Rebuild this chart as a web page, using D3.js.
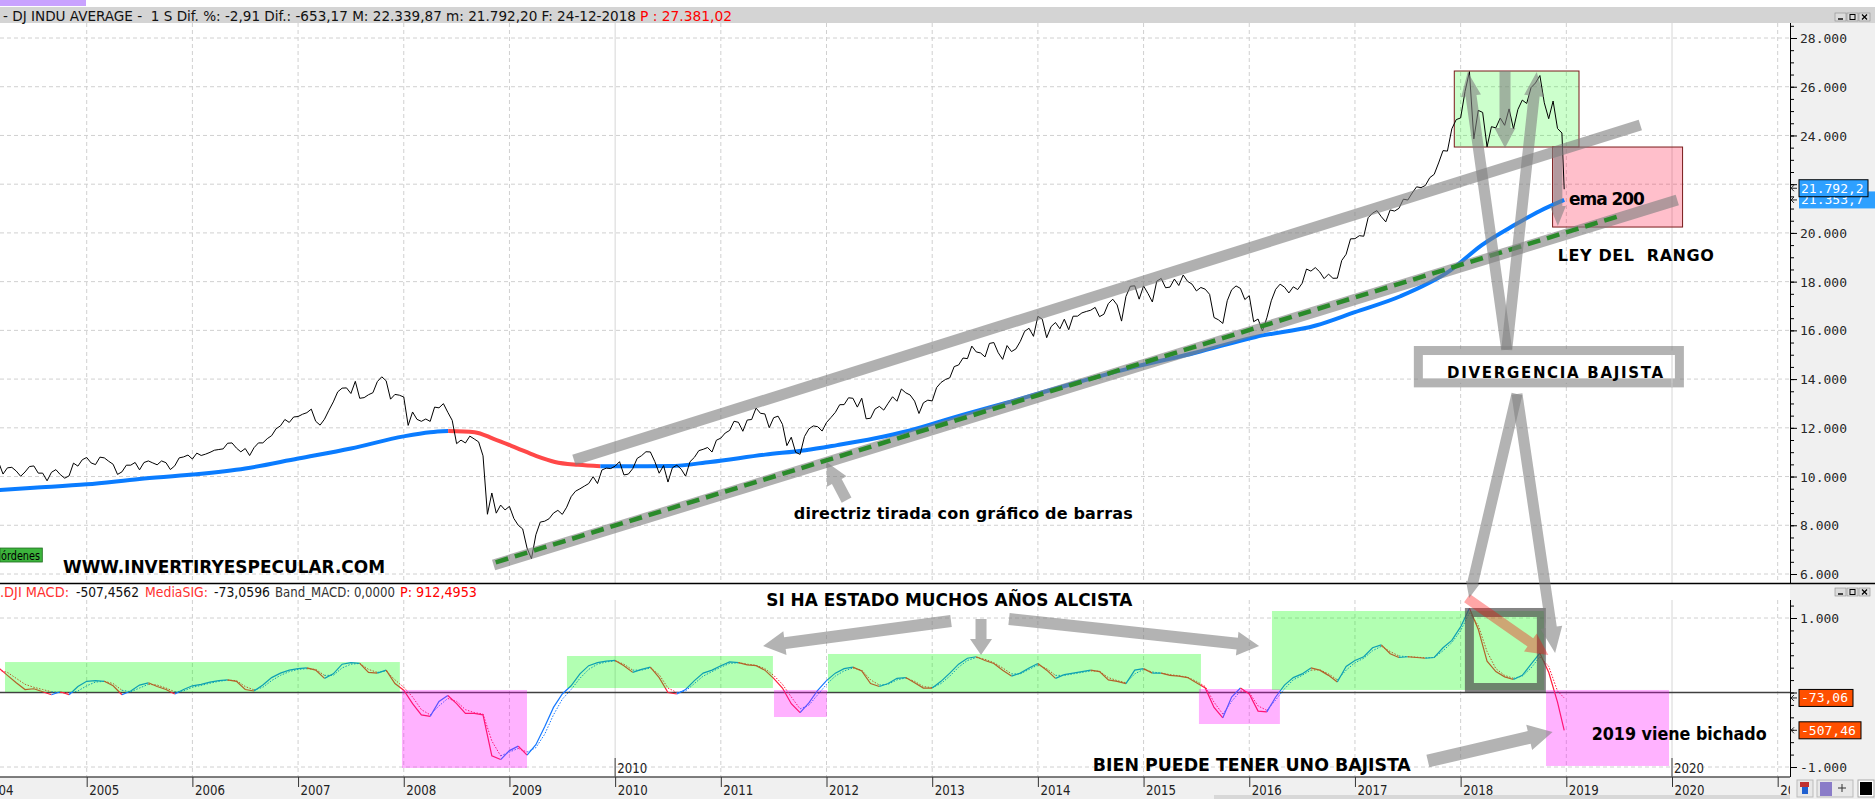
<!DOCTYPE html>
<html><head><meta charset="utf-8">
<script src="https://cdn.jsdelivr.net/npm/d3@7"></script>
<style>body{margin:0;background:#fff;overflow:hidden}svg{display:block}</style>
</head><body><svg id="c" width="1875" height="799"></svg>
<script>
// ================= DATA =================
// Dow Jones weekly chart, values read as half-month closes (2004 starts at end of February)
const dji2004 = [10584,10102,10358,10378,10226,10012,10188,10410,10435,10140,10140,9825,10174,10284,10080,9933,10027,10550,10428,10690,10783];
const dji2005 = [10558,10490,10796,10766,10627,10504,10088,10192,10466,10467,10578,10275,10575,10641,10560,10482,10641,10569,10287,10440,10766,10806,10882,10718];
const dji2006 = [10960,10865,10920,10993,11080,11109,11137,11367,11380,11168,11015,11150,10862,11185,11381,11381,11555,11679,11960,12081,12342,12221,12445,12463];
const dji2007 = [12556,12622,12767,12269,12110,12354,12720,13063,13476,13628,13639,13409,13908,13212,13239,13358,13442,13896,14093,13930,13176,13372,13339,13265];
const dji2008 = [12099,12650,12348,12266,12362,12263,12849,12820,12992,12638,12307,11350,11496,11378,11659,11544,11422,10851,8452,9325,8497,8830,8629,8776];
const dji2009 = [8281,8000,7850,7063,6627,7609,8131,8168,8268,8500,8612,8447,8743,9172,9398,9496,9605,9712,9995,9713,10271,10345,10328,10428];
const dji2010 = [10610,10067,10100,10325,10743,10857,11018,11009,10620,10137,10450,9774,10360,10466,10303,10015,10608,10788,11063,11118,11192,11006,11491,11578];
const dji2011 = [11787,11892,12268,12226,11859,12320,12341,12811,12596,12570,12005,12414,12479,12143,11269,11614,10992,10913,11644,11955,12078,12046,11867,12218];
const dji2012 = [12422,12633,12949,12952,13233,13212,12850,13214,12369,12393,12767,12880,12727,13009,13275,13091,13593,13437,13345,13096,12588,13026,13135,13104];
const dji2013 = [13650,13861,13982,14054,14514,14579,14865,14840,15354,15116,15071,14910,15464,15500,15081,14810,15376,15130,15237,15546,15962,16086,15755,16577];
const dji2014 = [16458,15699,16154,16322,16066,16458,16027,16581,16583,16717,16776,16827,16944,16563,16663,17098,17279,17043,16380,17391,17810,17828,17281,17823];
const dji2015 = [17512,17165,18019,18133,17749,17776,18105,17841,18272,18011,17898,17620,17760,17690,17477,16528,16433,16285,17216,17664,17824,17720,17265,17425];
const dji2016 = [16355,16466,15974,16517,17214,17685,17897,17774,17535,17787,17675,17930,18517,18432,18576,18401,18124,18308,18138,18142,18868,19124,19756,19763];
const dji2017 = [19886,19864,20624,20812,20915,20663,20453,20941,20897,21009,21384,21350,21638,21891,21858,21948,22268,22405,22871,23377,23358,24272,24651,24719];
const dji2018 = [25803,26617,23860,25029,24946,23533,24360,24311,24714,24416,25090,24271,25064,25451,25313,25965,26154,26458,25340,24688,25413,24286,24101,21792];
const lastDate = 2018.98; // 24-12-2018

// EMA 200 (read at irregular dates)
const emaDates  = [2004.0,2004.5,2005.0,2005.5,2006.0,2006.5,2007.0,2007.5,2008.0,2008.25,2008.42,2008.67,2008.85,2009.07,2009.25,2009.43,2009.65,2009.86,2010.2,2010.52,2010.9,2011.42,2011.8,2012.1,2012.45,2012.78,2013.23,2013.8,2014.36,2014.9,2015.49,2016.06,2016.63,2017.0,2017.43,2017.9,2018.2,2018.5,2018.75,2018.98];
const emaValues = [9400,9540,9680,9900,10080,10330,10740,11150,11650,11820,11870,11820,11550,11170,10850,10600,10480,10420,10425,10430,10600,10900,11080,11290,11560,11880,12460,13150,13850,14480,15080,15730,16200,16750,17400,18450,19500,20300,20900,21353];

// MACD and signal, month-end values from end of Feb 2004 to Dec 2018
const macdMonthly = [
  330,230,130,40,50,10,-30,10,-30,80,150,
  160,150,90,-30,20,100,130,80,40,-20,40,90,
  110,140,160,170,150,40,20,100,200,260,300,320,
  330,300,190,250,380,400,390,270,260,300,120,30,
  -150,-300,-320,-120,-40,-150,-280,-280,-300,-850,-900,-780,
  -720,-840,-700,-460,-200,-20,90,250,360,400,420,430,
  360,270,310,340,200,0,-20,40,160,260,300,360,
  410,400,370,360,300,190,60,-150,-270,-140,30,160,
  260,320,340,290,120,80,120,190,200,130,60,60,
  150,260,380,460,480,430,390,300,220,260,330,390,
  300,190,240,260,280,300,280,170,150,120,300,320,
  260,260,230,220,200,130,60,-200,-340,-60,60,-20,
  -250,-260,-60,100,200,250,330,300,230,140,350,430,
  480,600,640,520,470,480,470,460,470,600,700,880,
  1130,850,420,280,210,174,230,380,528,272,-130,-507];
const signalMonthly = [
  300,270,190,110,70,40,10,0,-5,20,90,
  140,150,120,30,10,60,110,100,60,10,20,70,
  95,125,150,165,160,80,35,70,160,230,280,310,
  320,310,230,230,330,380,390,310,270,290,170,70,
  -60,-230,-300,-180,-80,-120,-230,-270,-290,-650,-850,-800,
  -750,-800,-740,-560,-300,-90,40,190,310,380,410,425,
  380,300,300,330,240,60,0,20,120,220,280,340,
  390,400,380,365,320,230,110,-60,-220,-170,-30,110,
  220,290,330,300,170,100,110,170,195,150,80,65,
  120,220,340,430,470,445,400,330,250,250,310,370,
  320,230,230,250,270,290,285,200,160,130,250,310,
  275,260,240,225,205,150,80,-130,-290,-120,20,0,
  -180,-240,-100,50,170,230,300,305,250,170,300,400,
  460,560,620,550,490,480,475,465,470,560,670,830,
  1070,900,550,320,230,190,220,330,480,350,20,-73];

const yearTicks  = [2004,2005,2006,2007,2008,2009,2010,2011,2012,2013,2014,2015,2016,2017,2018,2019,2020,2021];
const priceTicks = [6000,8000,10000,12000,14000,16000,18000,20000,22000,24000,26000,28000];
const macdTicks  = [-1000,0,1000];
const lastPrice = 21792.2, lastEma = 21353.7, lastMacd = -507.4562, lastSignal = -73.0596;

const headerBlack = "- DJ INDU AVERAGE -  1 S Dif. %: -2,91 Dif.: -653,17 M: 22.339,87 m: 21.792,20 F: 24-12-2018";
const headerRed = "P : 27.381,02";

// ================= BUILD SERIES =================
const djiYears = [[2004,dji2004,3],[2005,dji2005,0],[2006,dji2006,0],[2007,dji2007,0],[2008,dji2008,0],[2009,dji2009,0],[2010,dji2010,0],[2011,dji2011,0],[2012,dji2012,0],[2013,dji2013,0],[2014,dji2014,0],[2015,dji2015,0],[2016,dji2016,0],[2017,dji2017,0],[2018,dji2018,0]];
const price = [];
djiYears.forEach(([yr, arr, off]) => arr.forEach((v, i) => price.push({d: yr + (off + i + 1) / 24, v})));
price[price.length - 1].d = lastDate;
const ema = emaDates.map((d, i) => ({d, v: emaValues[i]}));
const macd = macdMonthly.map((v, k) => ({d: 2004 + (k + 2) / 12, v, s: signalMonthly[k]}));
macd[macd.length - 1].d = lastDate;

// ================= SCALES =================
const W = 1875, H = 799, AX = 1790;
const x  = d3.scaleLinear().domain([2005, 2020]).range([86.7, 1672]);
const yP = d3.scaleLinear().domain([6000, 28000]).range([574, 38]);
const yM = d3.scaleLinear().domain([-1000, 1000]).range([767, 618]);
const loc = d3.formatLocale({decimal: ",", thousands: ".", grouping: [3], currency: ["", ""], minus: "-"});
const fInt = loc.format(",d"), f1 = loc.format(",.1f"), f2 = loc.format(",.2f");

const NARROW = "'Liberation Sans Narrow','Arial Narrow','DejaVu Sans Condensed',sans-serif";
const MONO = "'DejaVu Sans Mono','Liberation Mono',monospace";
const BLUE = "#1478ff", RED = "#ff1e3c";

const svg = d3.select('#c');
const defs = svg.append('defs');
defs.append('clipPath').attr('id', 'cm').append('rect').attr('x', 0).attr('y', 23).attr('width', AX).attr('height', 560);
defs.append('clipPath').attr('id', 'cd').append('rect').attr('x', 0).attr('y', 600).attr('width', AX).attr('height', 177);
defs.append('clipPath').attr('id', 'ca').append('rect').attr('x', 0).attr('y', 777).attr('width', AX).attr('height', 22);

svg.append('rect').attr('width', W).attr('height', H).attr('fill', '#fff');
svg.append('rect').attr('x', AX).attr('y', 23).attr('width', W - AX).attr('height', 754).attr('fill', '#f0f0f0');

// header
svg.append('rect').attr('x', 0).attr('y', 7).attr('width', W).attr('height', 16).attr('fill', '#d4d4d4');
svg.append('rect').attr('x', 0).attr('y', 0).attr('width', 86).attr('height', 6).attr('fill', '#c9a2ff');
svg.append('text').attr('x', 3).attr('y', 15.5).attr('dominant-baseline', 'central').attr('font-family', NARROW)
  .attr('font-size', 14).attr('fill', '#111').attr('textLength', 633).attr('lengthAdjust', 'spacingAndGlyphs').style('white-space', 'pre').text(headerBlack);
svg.append('text').attr('x', 640).attr('y', 15.5).attr('dominant-baseline', 'central').attr('font-family', NARROW)
  .attr('font-size', 14).attr('fill', '#ff0000').attr('textLength', 92).attr('lengthAdjust', 'spacingAndGlyphs').text(headerRed);

function winButtons(y) {
  [1835, 1847, 1859].forEach((bx, i) => {
    svg.append('rect').attr('x', bx).attr('y', y).attr('width', 11).attr('height', 8).attr('fill', '#dcdcdc').attr('stroke', '#8a8a8a').attr('stroke-width', 0.6);
    if (i === 0) svg.append('line').attr('x1', bx + 3).attr('x2', bx + 8).attr('y1', y + 6).attr('y2', y + 6).attr('stroke', '#000').attr('stroke-width', 1.4);
    if (i === 1) svg.append('rect').attr('x', bx + 3).attr('y', y + 1.5).attr('width', 5).attr('height', 5).attr('fill', 'none').attr('stroke', '#000').attr('stroke-width', 1);
    if (i === 2) svg.append('path').attr('d', `M${bx+3},${y+1.5}L${bx+8},${y+6.5}M${bx+8},${y+1.5}L${bx+3},${y+6.5}`).attr('stroke', '#000').attr('stroke-width', 1.2);
  });
}
winButtons(13);

// ================= GRID =================
const gM = svg.append('g').attr('clip-path', 'url(#cm)');
const gD = svg.append('g').attr('clip-path', 'url(#cd)');
[[gM, 23, 583], [gD, 600, 777]].forEach(([g, y1, y2]) => {
  yearTicks.forEach(yr => {
    const solid = yr % 10 === 0;
    g.append('line').attr('x1', x(yr)).attr('x2', x(yr)).attr('y1', y1).attr('y2', y2)
      .attr('stroke', solid ? '#d6d6d6' : '#d0d0d0').attr('stroke-dasharray', solid ? null : '4,3');
  });
});
priceTicks.forEach(v => gM.append('line').attr('x1', 0).attr('x2', AX).attr('y1', yP(v)).attr('y2', yP(v)).attr('stroke', '#d0d0d0').attr('stroke-dasharray', '4,3'));
[-1000, 1000].forEach(v => gD.append('line').attr('x1', 0).attr('x2', AX).attr('y1', yM(v)).attr('y2', yM(v)).attr('stroke', '#d0d0d0').attr('stroke-dasharray', '4,3'));

// ================= ANNOTATION GEOMETRY (data coordinates) =================
const greenBox = {x0: 2017.94, x1: 2019.12, v0: 26645, v1: 23525};
const pinkBox  = {x0: 2018.87, x1: 2020.10, v0: 23525, v1: 20241};
const upperChannel = [[2009.61, 10677], [2019.70, 24430]];
const lowerChannel = [[2008.85, 6367], [2020.05, 21350]];
const greenTrend   = [[2008.87, 6480], [2019.49, 20680]];
const divBox = {x0: 2017.60, x1: 2020.07, v0: 15173, v1: 13845};
const mainArrows = [
  {from: [2012.19, 9035], to: [2012.00, 10595], bw: 11, hw: 22, hl: 22},
  {from: [2018.42, 26645], to: [2018.42, 23484], bw: 11, hw: 21, hl: 20},
  {from: [2018.92, 23525], to: [2018.92, 20282], bw: 9, hw: 16, hl: 20},
  {from: [2018.436, 15200], to: [2018.067, 26604], bw: 11, hw: 20, hl: 24},
  {from: [2018.436, 15200], to: [2018.72, 26604], bw: 11, hw: 20, hl: 24}];
const crossArrows = [
  {from: [2018.533, 13388], to: [2018.081, 1268], bw: 11, hw: 14, hl: 16},
  {from: [2018.533, 13388], to: [2018.894, 530], bw: 11, hw: 22, hl: 26}];
const macdArrows = [
  {from: [2013.178, 960], to: [2011.40, 624], bw: 12, hw: 24, hl: 22},
  {from: [2013.462, 987], to: [2013.462, 503], bw: 11, hw: 22, hl: 16},
  {from: [2013.727, 987], to: [2016.093, 624], bw: 12, hw: 24, hl: 22},
  {from: [2017.69, -919], to: [2018.87, -530], bw: 13, hw: 26, hl: 24}];
const redArrow = {from: [2018.06, 1268], to: [2018.83, 503], bw: 10, hw: 22, hl: 22};
const macdBoxes = [
  {x0: 2004.227, x1: 2007.963, v0: 409, v1: 7, c: 'g'},
  {x0: 2007.983, x1: 2009.166, v0: 34, v1: -1013, c: 'p'},
  {x0: 2009.544, x1: 2011.493, v0: 490, v1: 60, c: 'g'},
  {x0: 2011.503, x1: 2012.004, v0: 34, v1: -329, c: 'p'},
  {x0: 2012.014, x1: 2015.543, v0: 517, v1: 7, c: 'g'},
  {x0: 2015.524, x1: 2016.290, v0: 47, v1: -423, c: 'p'},
  {x0: 2016.215, x1: 2018.789, v0: 1094, v1: 34, c: 'g'},
  {x0: 2018.808, x1: 2019.972, v0: 34, v1: -986, c: 'p'}];
const macdFrame = {x0: 2018.083, x1: 2018.764, v0: 1074, v1: 67};

function arrowPath(p1, p2, bw, hw, hl) {
  const dx = p2[0] - p1[0], dy = p2[1] - p1[1], L = Math.hypot(dx, dy);
  const ux = dx / L, uy = dy / L, nx = -uy, ny = ux;
  const bx = p2[0] - ux * hl, by = p2[1] - uy * hl;
  const pts = [[p1[0] + nx * bw / 2, p1[1] + ny * bw / 2], [bx + nx * bw / 2, by + ny * bw / 2], [bx + nx * hw / 2, by + ny * hw / 2], p2,
    [bx - nx * hw / 2, by - ny * hw / 2], [bx - nx * bw / 2, by - ny * bw / 2], [p1[0] - nx * bw / 2, p1[1] - ny * bw / 2]];
  return d3.line()(pts) + 'Z';
}
const PM = p => [x(p[0]), yP(p[1])], PD = p => [x(p[0]), yM(p[1])];

// ================= MAIN PANEL =================
gM.append('rect').attr('x', x(greenBox.x0)).attr('y', yP(greenBox.v0)).attr('width', x(greenBox.x1) - x(greenBox.x0)).attr('height', yP(greenBox.v1) - yP(greenBox.v0))
  .attr('fill', '#00ff00').attr('fill-opacity', 0.2).attr('stroke', '#7a1a1a').attr('stroke-width', 1);
gM.append('rect').attr('x', x(pinkBox.x0)).attr('y', yP(pinkBox.v0)).attr('width', x(pinkBox.x1) - x(pinkBox.x0)).attr('height', yP(pinkBox.v1) - yP(pinkBox.v0))
  .attr('fill', '#ff0030').attr('fill-opacity', 0.25).attr('stroke', '#7a1a1a').attr('stroke-width', 1);

// EMA colored runs
function runs(arr, colorOf) {
  const out = [];
  for (let i = 1; i < arr.length; i++) {
    const c = colorOf(i);
    if (!out.length || out[out.length - 1].c !== c) out.push({c, pts: [arr[i - 1]]});
    out[out.length - 1].pts.push(arr[i]);
  }
  return out;
}
const emaLine = d3.line().x(d => x(d.d)).y(d => yP(d.v)).curve(d3.curveMonotoneX);
runs(ema, i => ema[i].v < ema[i - 1].v ? '#ff4848' : '#0a7cff').forEach(r =>
  gM.append('path').attr('d', emaLine(r.pts)).attr('fill', 'none').attr('stroke', r.c).attr('stroke-width', 4));

gM.append('path').datum(price).attr('d', d3.line().x(d => x(d.d)).y(d => yP(d.v))).attr('fill', 'none').attr('stroke', '#000').attr('stroke-width', 1);

// channels
[upperChannel, lowerChannel].forEach(l => gM.append('line').attr('x1', PM(l[0])[0]).attr('y1', PM(l[0])[1]).attr('x2', PM(l[1])[0]).attr('y2', PM(l[1])[1])
  .attr('stroke', '#808080').attr('stroke-opacity', 0.62).attr('stroke-width', 11));
gM.append('line').attr('x1', PM(greenTrend[0])[0]).attr('y1', PM(greenTrend[0])[1]).attr('x2', PM(greenTrend[1])[0]).attr('y2', PM(greenTrend[1])[1])
  .attr('stroke', '#2a8a2a').attr('stroke-width', 4.5).attr('stroke-dasharray', '13,7');

mainArrows.forEach(a => gM.append('path').attr('d', arrowPath(PM(a.from), PM(a.to), a.bw, a.hw, a.hl)).attr('fill', '#808080').attr('fill-opacity', 0.6));

// divergence box
const dbx0 = x(divBox.x0), dbx1 = x(divBox.x1), dby0 = yP(divBox.v0), dby1 = yP(divBox.v1);
svg.append('rect').attr('x', dbx0).attr('y', dby0).attr('width', dbx1 - dbx0).attr('height', dby1 - dby0).attr('fill', '#fff')
  .attr('stroke', '#808080').attr('stroke-opacity', 0.6).attr('stroke-width', 9);
svg.append('line').attr('x1', x(2020)).attr('x2', x(2020)).attr('y1', dby0 + 4.5).attr('y2', dby1 + 4.5).attr('stroke', '#d0d0d0');

// text notes
function note(t, px, py, w, size, family, adjust) {
  svg.append('text').attr('x', px).attr('y', py).attr('dominant-baseline', 'central').attr('font-family', family).attr('font-weight', 'bold')
    .attr('font-size', size).attr('fill', '#000').attr('textLength', w).attr('lengthAdjust', adjust).style('white-space', 'pre').text(t);
}
const SANS = "'Liberation Sans',Arial,sans-serif";
const DEJA = "'DejaVu Sans',sans-serif";
note("WWW.INVERTIRYESPECULAR.COM", x(2004.776), yP(6287), 322, 17, DEJA, 'spacingAndGlyphs');
note("directriz tirada con gráfico de barras", x(2011.69), yP(8503), 339, 16, DEJA, 'spacing');
note("ema 200", x(2019.025), yP(21392), 76, 17, DEJA, 'spacing');
note("LEY DEL  RANGO", x(2018.92), yP(19093), 156, 16, DEJA, 'spacing');
note("DIVERGENCIA BAJISTA", x(2017.872), yP(14250), 216, 15, DEJA, 'spacing');

// órdenes tag
svg.append('rect').attr('x', x(2004.18)).attr('y', yP(7066)).attr('width', x(2004.58) - x(2004.18)).attr('height', yP(6492) - yP(7066))
  .attr('fill', '#3cb43c').attr('stroke', '#1e6e1e').attr('stroke-width', 0.8);
svg.append('text').attr('x', x(2004.18) + 1).attr('y', (yP(7066) + yP(6492)) / 2).attr('dominant-baseline', 'central').attr('font-family', NARROW)
  .attr('font-size', 13).attr('fill', '#000').attr('textLength', 39).attr('lengthAdjust', 'spacingAndGlyphs').text('órdenes');

// ================= MACD PANEL =================
svg.append('line').attr('x1', 0).attr('x2', W).attr('y1', 583.5).attr('y2', 583.5).attr('stroke', '#000').attr('stroke-width', 1.5);
winButtons(588);
const macdHdr = [[".DJI MACD:", 0, 69, '#ff3030'], ["-507,4562", 76, 63, '#111'], ["MediaSIG:", 145, 63, '#ff3030'], ["-73,0596", 214, 56, '#111'],
  ["Band_MACD: 0,0000", 275, 120, '#333'], ["P: 912,4953", 400, 77, '#ff0000']];
macdHdr.forEach(([t, px, w, c]) => svg.append('text').attr('x', px).attr('y', 592).attr('dominant-baseline', 'central').attr('font-family', NARROW)
  .attr('font-size', 14).attr('fill', c).attr('textLength', w).attr('lengthAdjust', 'spacingAndGlyphs').text(t));

gD.append('line').attr('x1', 0).attr('x2', AX).attr('y1', yM(0)).attr('y2', yM(0)).attr('stroke', '#404040').attr('stroke-width', 1.4);
const mColor = i => macd[i].v >= macd[i].s ? BLUE : RED;
runs(macd, mColor).forEach(r => {
  gD.append('path').attr('d', d3.line().x(d => x(d.d)).y(d => yM(d.s))(r.pts)).attr('fill', 'none').attr('stroke', r.c).attr('stroke-width', 1).attr('stroke-dasharray', '1.5,1.5');
  gD.append('path').attr('d', d3.line().x(d => x(d.d)).y(d => yM(d.v))(r.pts)).attr('fill', 'none').attr('stroke', r.c).attr('stroke-width', 1.2);
});
macdBoxes.forEach(b => gD.append('rect').attr('x', x(b.x0)).attr('y', yM(b.v0)).attr('width', x(b.x1) - x(b.x0)).attr('height', yM(b.v1) - yM(b.v0))
  .attr('fill', b.c === 'g' ? '#00ff00' : '#ff00ff').attr('fill-opacity', 0.3));
gD.append('rect').attr('x', x(macdFrame.x0)).attr('y', yM(macdFrame.v0)).attr('width', x(macdFrame.x1) - x(macdFrame.x0)).attr('height', yM(macdFrame.v1) - yM(macdFrame.v0))
  .attr('fill', 'none').attr('stroke', '#505050').attr('stroke-opacity', 0.7).attr('stroke-width', 9);
macdArrows.forEach(a => svg.append('path').attr('d', arrowPath(PD(a.from), PD(a.to), a.bw, a.hw, a.hl)).attr('fill', '#808080').attr('fill-opacity', 0.6));
svg.append('path').attr('d', arrowPath(PD(redArrow.from), PD(redArrow.to), redArrow.bw, redArrow.hw, redArrow.hl)).attr('fill', '#ff0000').attr('fill-opacity', 0.35);
crossArrows.forEach(a => svg.append('path').attr('d', arrowPath(PM(a.from), PD(a.to), a.bw, a.hw, a.hl)).attr('fill', '#808080').attr('fill-opacity', 0.6));

note("SI HA ESTADO MUCHOS AÑOS ALCISTA", x(2011.43), yM(1255), 366, 18, NARROW, 'spacingAndGlyphs');
note("BIEN PUEDE TENER UNO BAJISTA", x(2014.52), yM(-973), 318, 18, NARROW, 'spacingAndGlyphs');
note("2019 viene bichado", x(2019.24), yM(-557), 175, 18, NARROW, 'spacingAndGlyphs');

// decade markers
[2010, 2020].forEach(yr => {
  svg.append('line').attr('x1', x(yr)).attr('x2', x(yr)).attr('y1', 758).attr('y2', 777).attr('stroke', '#404040');
  svg.append('text').attr('x', x(yr) + 2).attr('y', 768).attr('dominant-baseline', 'central').attr('font-family', NARROW)
    .attr('font-size', 14).attr('fill', '#222').attr('textLength', 30).attr('lengthAdjust', 'spacingAndGlyphs').text(yr);
});

// ================= AXES =================
function styleAxis(g) {
  g.select('.domain').remove();
  g.selectAll('.tick line').attr('stroke', '#000');
  g.selectAll('.tick text').attr('font-family', MONO).attr('font-size', 13).attr('fill', '#282828').attr('x', 10).attr('dy', '0.35em');
}
const gyMinor = svg.append('g').attr('transform', `translate(${AX},0)`).call(d3.axisRight(yP).tickValues(d3.range(6000, 28501, 500)).tickSize(4).tickFormat(''));
gyMinor.select('.domain').remove(); gyMinor.selectAll('.tick line').attr('stroke', '#000');
const gy = svg.append('g').attr('transform', `translate(${AX},0)`).call(d3.axisRight(yP).tickValues(priceTicks).tickSize(7).tickFormat(fInt));
styleAxis(gy);
const gdMinor = svg.append('g').attr('transform', `translate(${AX},0)`).call(d3.axisRight(yM).tickValues(d3.range(-6, 8).map(k => k * 1000 / 6)).tickSize(4).tickFormat(''));
gdMinor.select('.domain').remove(); gdMinor.selectAll('.tick line').attr('stroke', '#000');
const gd = svg.append('g').attr('transform', `translate(${AX},0)`).call(d3.axisRight(yM).tickValues(macdTicks).tickSize(7).tickFormat(v => v === 0 ? '' : fInt(v)));
styleAxis(gd);
svg.append('line').attr('x1', AX + 0.5).attr('x2', AX + 0.5).attr('y1', 23).attr('y2', 583).attr('stroke', '#000');
svg.append('line').attr('x1', AX + 0.5).attr('x2', AX + 0.5).attr('y1', 600).attr('y2', 777).attr('stroke', '#000');

function valueLabel(yc, txt, fill, w, border) {
  const g = svg.append('g');
  g.append('rect').attr('x', 1799).attr('y', yc - 8.5).attr('width', w).attr('height', 17).attr('fill', fill).attr('stroke', border ? '#000' : 'none').attr('stroke-width', 1);
  g.append('text').attr('x', 1801).attr('y', yc).attr('dominant-baseline', 'central').attr('font-family', MONO).attr('font-size', 13).attr('fill', '#fff').text(txt);
  svg.append('path').attr('d', `M${AX + 7},${yc}L${AX + 1},${yc}M${AX + 4},${yc - 3}L${AX + 1},${yc}L${AX + 4},${yc + 3}`).attr('stroke', '#222').attr('fill', 'none');
}
valueLabel(yP(lastEma), f1(lastEma), '#2ea0ff', 76, false);
valueLabel(yP(lastPrice) - 1, f1(lastPrice), '#2ea0ff', 69, true);
valueLabel(yM(lastSignal), f2(lastSignal), '#ff5000', 54, true);
valueLabel(yM(lastMacd), f2(lastMacd), '#ff5000', 62, true);

// bottom axis strip
svg.append('rect').attr('x', 0).attr('y', 777).attr('width', W).attr('height', 22).attr('fill', '#f0f0f0');
svg.append('rect').attr('x', 1214).attr('y', 795).attr('width', AX - 1214).attr('height', 4).attr('fill', '#d8d8d8');
svg.append('line').attr('x1', 0).attr('x2', AX).attr('y1', 777).attr('y2', 777).attr('stroke', '#555').attr('stroke-width', 1.5);
const gx = svg.append('g').attr('clip-path', 'url(#ca)').append('g').attr('transform', 'translate(0,777)')
  .call(d3.axisBottom(x).tickValues(yearTicks).tickSize(10).tickFormat(d3.format('d')));
gx.select('.domain').remove();
gx.selectAll('.tick line').attr('stroke', '#333');
gx.selectAll('.tick text').attr('x', 2).attr('y', 13).attr('dy', null).attr('dominant-baseline', 'central').attr('text-anchor', 'start')
  .attr('font-family', NARROW).attr('font-size', 14).attr('fill', '#222').attr('textLength', 30).attr('lengthAdjust', 'spacingAndGlyphs');

// bottom-right icons
svg.append('rect').attr('x', 1797).attr('y', 780).attr('width', 16).attr('height', 17).attr('fill', '#e8e8e8').attr('stroke', '#bbb');
svg.append('rect').attr('x', 1800).attr('y', 782).attr('width', 9).attr('height', 5).attr('fill', '#c03030');
svg.append('rect').attr('x', 1802).attr('y', 787).attr('width', 6).attr('height', 7).attr('fill', '#2060d0');
svg.append('rect').attr('x', 1817).attr('y', 780).attr('width', 36).attr('height', 17).attr('fill', '#e8e8e8').attr('stroke', '#bbb');
svg.append('rect').attr('x', 1820).attr('y', 782).attr('width', 12).attr('height', 14).attr('fill', '#8a7cc8');
svg.append('path').attr('d', 'M1838,788L1846,788M1842,784L1842,792').attr('stroke', '#333');
svg.append('rect').attr('x', 1858).attr('y', 780).attr('width', 16).attr('height', 17).attr('fill', '#fff').attr('stroke', '#aaa');
svg.append('rect').attr('x', 1860).attr('y', 782).attr('width', 12).attr('height', 13).attr('fill', '#000');
</script></body></html>
